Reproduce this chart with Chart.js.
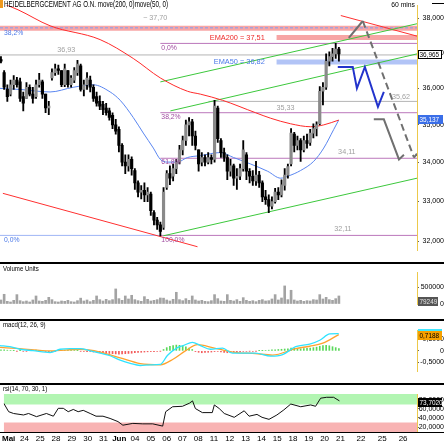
<!DOCTYPE html>
<html>
<head>
<meta charset="utf-8">
<script src="https://cdn.jsdelivr.net/npm/chart.js@4.4.0/dist/chart.umd.min.js"></script>
<style>
  html, body { margin: 0; padding: 0; background: #fff; }
  #wrap { position: relative; width: 444px; height: 444px; overflow: hidden; background: #fff; }
  .pane { position: absolute; left: 0; width: 444px; }
  .sep { position: absolute; left: 0; width: 444px; height: 2px; background: #000; }
</style>
</head>
<body>
<div id="wrap">
  <div class="pane" style="top:0;height:262px"><canvas id="main"></canvas></div>
  <div class="sep" style="top:262px"></div>
  <div class="pane" style="top:264px;height:56px"><canvas id="vol"></canvas></div>
  <div class="sep" style="top:319px"></div>
  <div class="pane" style="top:321px;height:63px"><canvas id="macd"></canvas></div>
  <div class="sep" style="top:383px"></div>
  <div class="pane" style="top:385px;height:59px"><canvas id="rsi"></canvas></div>
  <div class="sep" style="top:432px;height:1px"></div>
  <div style="position:absolute;left:0;top:0;width:3px;height:8px;background:#f09a20"></div>
</div>
<script>
const FONT = '"Liberation Sans", Arial, sans-serif';

// time axis: one unit = one trading day, day 0 = 23 Mai
const X_MIN = -0.31, X_MAX = 25.85;
const FIRST_BAR = -0.25, BAR_STEP = 0.2;
const dayTicks = [0, 1, 2, 3, 4, 5, 6, 7, 8, 9, 10, 11, 12, 13, 14, 15, 16, 17, 18, 19, 20, 21, 22.3, 23.65, 24.97];
const dayLabels = ['Mai', '24', '25', '28', '29', '30', '31', 'Jun', '04', '05', '06', '07', '08', '11', '12', '13', '14', '15', '18', '19', '20', '21', '22', '25', '26'];

// price bars
const opens = [36.81, 36.44, 35.97, 35.84, 36.10, 36.23, 36.18, 35.77, 35.72, 36.03,
  35.84, 35.77, 36.10, 36.18, 35.84, 35.46, 36.29, 36.44, 36.55, 36.50,
  36.10, 36.50, 36.10, 36.23, 36.44, 36.63, 35.97, 36.10, 36.23, 36.03,
  35.77, 35.64, 35.56, 35.46, 35.38, 35.26, 35.00, 34.88, 34.45, 34.01,
  33.91, 34.08, 33.79, 33.47, 33.23, 33.28, 33.16, 33.18, 32.71, 32.52,
  32.40, 32.34, 33.35, 33.71, 33.64, 33.84, 34.01, 34.33, 34.58, 35.00,
  35.08, 34.70, 34.33, 34.01, 34.13, 34.01, 34.13, 34.08, 35.46, 34.58,
  34.26, 34.13, 33.77, 33.91, 33.59, 33.64, 33.84, 34.20, 33.77, 33.64,
  33.52, 33.67, 33.47, 33.11, 33.04, 32.87, 32.99, 33.23, 33.16, 33.40,
  33.67, 33.96, 34.75, 34.45, 34.58, 34.33, 34.58, 34.53, 34.78, 34.90,
  35.03, 35.92, 36.03, 36.76, 36.89, 36.97, 37.11];
const highs = [36.89, 36.50, 36.10, 36.23, 36.36, 36.31, 36.29, 35.90, 36.16, 36.10,
  36.03, 36.23, 36.42, 36.23, 35.84, 35.64, 36.55, 36.68, 36.65, 36.50,
  36.68, 36.50, 36.36, 36.58, 36.79, 36.68, 36.23, 36.44, 36.34, 36.10,
  35.90, 35.79, 35.64, 35.59, 35.46, 35.33, 35.15, 34.95, 34.50, 34.20,
  34.20, 34.15, 33.84, 33.52, 33.40, 33.47, 33.35, 33.23, 32.76, 32.59,
  32.47, 33.35, 33.79, 33.91, 33.96, 34.08, 34.45, 34.70, 35.13, 35.20,
  35.15, 34.83, 34.33, 34.26, 34.20, 34.26, 34.20, 35.67, 35.51, 34.63,
  34.38, 34.20, 34.08, 33.96, 33.84, 33.96, 34.58, 34.26, 33.84, 33.79,
  34.03, 33.77, 33.52, 33.28, 33.16, 33.11, 33.33, 33.35, 33.55, 33.84,
  33.96, 34.90, 34.80, 34.70, 34.63, 34.70, 34.75, 34.88, 35.03, 35.08,
  36.05, 36.16, 36.97, 37.03, 37.13, 37.27, 37.16];
const lows = [36.71, 35.97, 35.64, 35.79, 35.97, 36.03, 35.64, 35.38, 35.72, 35.79,
  35.59, 35.72, 36.03, 35.72, 35.33, 35.28, 36.23, 36.36, 36.39, 36.05,
  36.05, 36.03, 36.03, 36.16, 36.36, 35.92, 35.79, 35.97, 35.90, 35.64,
  35.51, 35.41, 35.28, 35.26, 35.13, 34.90, 34.75, 34.28, 33.91, 33.71,
  33.77, 33.67, 33.30, 33.11, 33.06, 32.99, 32.99, 32.64, 32.40, 32.29,
  32.13, 32.29, 33.30, 33.42, 33.52, 33.71, 33.96, 34.20, 34.45, 34.70,
  34.45, 34.33, 33.77, 33.91, 33.91, 33.96, 33.96, 34.01, 34.53, 34.13,
  34.03, 33.55, 33.64, 33.40, 33.30, 33.55, 33.77, 33.55, 33.47, 33.40,
  33.40, 33.35, 32.99, 32.92, 32.71, 32.80, 32.95, 33.04, 33.11, 33.28,
  33.59, 33.91, 34.28, 34.33, 34.03, 34.28, 34.38, 34.45, 34.65, 34.70,
  35.00, 35.54, 35.97, 36.63, 36.76, 36.84, 36.76];
const closes = [36.76, 36.03, 35.77, 36.10, 36.23, 36.10, 35.72, 35.59, 36.03, 35.84,
  35.72, 36.10, 36.23, 35.84, 35.46, 35.51, 36.44, 36.55, 36.50, 36.10,
  36.55, 36.10, 36.29, 36.50, 36.68, 35.97, 36.10, 36.29, 36.03, 35.72,
  35.59, 35.51, 35.41, 35.33, 35.20, 35.00, 34.83, 34.45, 34.01, 33.91,
  34.08, 33.84, 33.47, 33.23, 33.28, 33.16, 33.23, 32.76, 32.52, 32.40,
  32.24, 33.23, 33.71, 33.59, 33.84, 34.01, 34.33, 34.58, 35.00, 35.08,
  34.70, 34.45, 33.96, 34.13, 34.01, 34.13, 34.08, 35.51, 34.63, 34.26,
  34.13, 33.77, 33.91, 33.59, 33.64, 33.84, 34.33, 33.77, 33.64, 33.52,
  33.67, 33.47, 33.11, 33.04, 32.87, 32.99, 33.23, 33.16, 33.42, 33.67,
  33.89, 34.78, 34.45, 34.58, 34.33, 34.58, 34.50, 34.78, 34.90, 35.00,
  35.92, 36.03, 36.76, 36.89, 36.97, 37.11, 36.97];
const volumes = [120, 290, 80, 60, 110, 280, 100, 70, 90, 60,
  120, 240, 90, 80, 110, 200, 130, 70, 60, 90,
  80, 110, 70, 60, 100, 175, 90, 120, 70, 110,
  240, 130, 90, 140, 100, 130, 450, 160, 110, 240,
  150, 260, 130, 100, 80, 220, 140, 90, 110, 130,
  180, 175, 120, 90, 140, 350, 130, 100, 160, 110,
  240, 120, 90, 110, 80, 70, 100, 280, 160, 90,
  80, 280, 110, 90, 130, 80, 190, 110, 80, 100,
  70, 110, 130, 90, 100, 150, 280, 120, 180, 540,
  130, 410, 120, 90, 110, 80, 100, 90, 130, 120,
  280, 150, 200, 130, 110, 160, 240].map(v => v * 1000);

// moving averages [day, price]
const ema200Line = [[-0.31, 38.47], [0.82, 38.25], [2.83, 37.78], [5.97, 37.38], [8.05, 36.84], [9.75, 36.29],
  [11.45, 35.92], [12.26, 35.84], [13.65, 35.67], [15.72, 35.33], [16.67, 35.18], [17.92, 35.03],
  [19.18, 34.95], [20.0, 35.00], [20.94, 35.13]];
const ema50Line = [[-0.31, 36.00], [0.94, 35.97], [2.83, 35.90], [4.28, 36.03], [5.53, 36.10], [6.60, 35.90],
  [7.23, 35.67], [8.05, 35.20], [8.68, 34.78], [9.31, 34.38], [9.75, 34.08], [10.19, 34.01], [10.82, 34.01],
  [11.45, 34.13], [12.26, 34.18], [13.52, 34.26], [14.34, 34.13], [15.41, 33.96], [16.48, 33.77],
  [17.30, 33.59], [17.74, 33.64], [18.55, 33.79], [19.37, 34.03], [20.0, 34.38], [20.63, 34.88], [20.94, 35.13]];

// drawn levels
const pinkLevel = 37.71;
const fibLeftLevels = [37.72, 32.14];
const fibLeftNames = ['38,2%', '0,0%'];
const fibRightLevels = [37.27, 35.33, 34.11, 32.14];
const fibRightNames = ['0,0%', '38,2%', '61,8%', '100,0%'];
const fibRightPrices = ['', '35,33', '34,11', '32,11'];
const grayLevels = [36.94, 35.64];
const grayNames = ['36,93', '35,62'];
const emaBandLevels = [37.44, 36.74];
const emaBandNames = ['EMA200 = 37,51', 'EMA50 = 36,82'];
const FIB_START = 9.75, BAND_START = 17.04;
const grayStarts = [-0.31, 12.77];

// trend lines [day, price]
const channelTop = [[9.75, 36.18], [25.85, 37.84]];
const channelMid = [[10.38, 35.38], [25.85, 36.97]];
const channelLow = [[9.94, 32.13], [25.85, 33.59]];
const trendDownLeft = [[-0.13, 33.20], [12.08, 31.86]];
const trendDownRight = [[21.07, 38.08], [25.85, 37.48]];

// projections
const projGrayUp = [[21.57, 37.43], [22.45, 37.92]];
const projGrayDash = [[22.45, 37.92], [25.66, 34.13]];
const projGrayTail = [[25.66, 34.13], [25.85, 34.23]];
const projGrayStep = [[23.14, 35.15], [23.77, 35.15], [24.72, 34.08], [25.03, 34.20]];
const projBlue = [[20.88, 36.60], [21.82, 36.60], [22.08, 36.00], [22.58, 36.60], [23.40, 35.49], [23.77, 35.90]];

// indicators
const macdHist = [0.05, 0.04, 0.03, 0.02, 0.01,
  -0.01, 0.01, -0.02, -0.01, 0.01, 0.02, 0.03, 0.02, 0.01,
  -0.03, -0.04, -0.03, -0.02, 0.01,
  0.02, 0.03, 0.03, 0.02, 0.02, 0.01, -0.01,
  -0.02, -0.03, -0.03, -0.05, -0.06, -0.07, -0.09, -0.10, -0.11, -0.12, -0.13, -0.14, -0.13, -0.12, -0.11, -0.10, -0.08, -0.07, -0.06, -0.05, -0.04, -0.03,
  -0.03, -0.02, -0.01,
  0.06, 0.14, 0.20, 0.23, 0.25, 0.24, 0.22, 0.18, 0.12, 0.06,
  -0.03, -0.06, -0.08, -0.07, -0.06, -0.05, -0.03, -0.02,
  -0.05, -0.07, -0.08, -0.06, -0.05, -0.04, -0.03, -0.02, -0.02, -0.01, -0.02, -0.01, 0.01, 0.01,
  0.02, 0.03, 0.04, 0.05, 0.06, 0.07, 0.08, 0.09,
  0.12, 0.11, 0.10, 0.09, 0.10, 0.11, 0.12, 0.14, 0.16,
  0.20, 0.23, 0.24, 0.22, 0.18, 0.14, 0.10];
const macdLine = [[-0.31, 0.23], [0.31, 0.18], [0.94, 0.07], [1.76, 0.01], [2.83, -0.07], [3.46, 0.07], [4.09, 0.10],
  [4.72, 0.10], [5.35, 0.0], [5.97, -0.10], [6.6, -0.21], [7.23, -0.40], [7.86, -0.54], [8.49, -0.63], [9.12, -0.60],
  [9.75, -0.58], [10.19, -0.20], [10.82, 0.14], [11.19, 0.23], [11.76, 0.37], [12.26, 0.23], [12.89, 0.07],
  [13.65, 0.12], [14.28, -0.10], [14.91, -0.10], [15.72, -0.10], [16.67, -0.23], [17.42, -0.16], [18.24, 0.18],
  [19.12, 0.29], [19.75, 0.46], [20.38, 0.73], [20.94, 0.74]];
const signalLine = [[-0.31, 0.15], [0.94, 0.10], [2.83, 0.0], [4.72, 0.07], [5.97, -0.05], [7.23, -0.30], [8.49, -0.55],
  [9.75, -0.60], [10.57, -0.35], [11.32, 0.0], [12.08, 0.27], [13.08, 0.13], [14.28, -0.05], [15.72, -0.12],
  [16.79, -0.18], [18.24, 0.10], [19.12, 0.20], [19.94, 0.33], [20.94, 0.70]];
const rsiLine = [[-0.31, 72.6], [0, 54], [0.31, 50], [0.94, 46.7], [1.26, 50], [1.76, 43], [2.39, 50], [2.83, 44],
  [3.14, 61.5], [3.46, 61.5], [3.77, 54], [4.09, 59], [4.40, 54], [4.72, 57], [5.16, 50], [5.53, 44], [5.97, 44],
  [6.42, 39], [6.92, 32], [7.23, 24], [7.86, 28], [8.49, 27], [9.12, 27], [9.75, 22], [9.94, 54], [10.38, 65],
  [11.0, 66], [11.45, 73], [11.64, 78], [11.82, 61], [12.26, 52], [12.89, 52], [13.02, 69], [13.33, 61], [13.65, 50],
  [14.28, 41.5], [14.91, 56], [15.22, 44], [15.72, 48], [16.04, 41.5], [16.48, 37], [16.98, 46.7], [17.42, 58],
  [17.86, 71], [18.49, 65], [19.12, 69], [19.43, 66], [19.75, 84], [20.13, 86], [20.57, 86], [20.94, 78]];

const priceTicks = [32, 33, 34, 35, 36, 37, 38];
const volTicks = [0, 500000];
const macdTicks = [-0.5, 0, 0.5];
const rsiTicks = [20, 40, 60, 80];
const lastPrice = 36.965, ema50Last = 35.137, volLast = 79249, macdLast = 0.7188, signalLast = 0.74, rsiLast = 73.702;

const barDay = i => FIRST_BAR + i * BAR_STEP;
const comma = (v, d) => v.toFixed(d).replace('.', ',');

function drawText(ctx, text, x, y, o) {
  o = o || {};
  ctx.save();
  ctx.font = (o.bold ? 'bold ' : '') + (o.size || 8) + 'px ' + FONT;
  ctx.fillStyle = o.color || '#000';
  ctx.textBaseline = 'middle';
  ctx.textAlign = 'left';
  const raw = ctx.measureText(text).width;
  const sx = o.width ? o.width / raw : (o.sx || 0.78);
  const w = raw * sx;
  let left = x;
  if (o.align === 'center') left = x - w / 2;
  else if (o.align === 'right') left = x - w;
  ctx.translate(left, y);
  ctx.scale(sx, 1);
  ctx.fillText(text, 0, 0);
  ctx.restore();
}

function axisBox(chart, value, text, bg, fg, w, stroke, dy) {
  const ctx = chart.ctx;
  const y = chart.scales.y.getPixelForValue(value) + (dy || 0);
  const x = chart.chartArea.right + 1;
  const top = Math.round(y - 4.5);
  ctx.save();
  ctx.fillStyle = bg;
  ctx.fillRect(x, top, w, 9);
  if (stroke) {
    ctx.strokeStyle = stroke;
    ctx.lineWidth = 1;
    ctx.strokeRect(x + 0.5, top + 0.5, w - 1, 8);
  }
  ctx.restore();
  drawText(ctx, text, x + 1.5, top + 4.7, { size: 8, color: fg, sx: 0.8 });
}

function lineDs(pts, color, width, dash, order, smooth) {
  return {
    type: 'line',
    data: pts.map(p => ({ x: p[0], y: p[1] })),
    borderColor: color, borderWidth: width, borderDash: dash || [],
    borderCapStyle: 'butt', pointRadius: 0, fill: false, order: order,
    tension: 0, cubicInterpolationMode: smooth ? 'monotone' : 'default'
  };
}

function xOpts(show) {
  return {
    type: 'linear', min: X_MIN, max: X_MAX, offset: false, display: show,
    grid: { display: false, drawTicks: false }, border: { display: false },
    afterBuildTicks: s => { s.ticks = dayTicks.map(v => ({ value: v })); },
    afterFit: s => { s.height = 12; },
    ticks: {
      autoSkip: false, maxRotation: 0, padding: 2, color: '#000',
      font: c => ({ family: FONT, size: 8, weight: (c.index === 0 || c.index === 7) ? 'bold' : 'normal' }),
      callback: (v, i) => dayLabels[i]
    }
  };
}

function yOpts(type, min, max, tickVals, fmt) {
  return {
    type: type, position: 'right', min: min, max: max, bounds: 'data',
    afterBuildTicks: s => { s.ticks = tickVals.map(v => ({ value: v })); },
    afterFit: s => { s.width = 27; },
    grid: { drawOnChartArea: false, drawTicks: true, tickLength: 2, color: '#666' },
    border: { display: true, color: '#ecc94b', width: 1 },
    ticks: { autoSkip: false, crossAlign: 'far', padding: 1, color: '#000', font: { family: FONT, size: 7 }, callback: v => fmt(v) }
  };
}

function baseOptions(scales, padding) {
  return {
    responsive: true, maintainAspectRatio: false, animation: false, events: [], devicePixelRatio: 1,
    layout: { padding: padding },
    plugins: { legend: { display: false }, tooltip: { enabled: false } },
    scales: scales
  };
}

// ---------- main price panel ----------
const GRAY = '#a0a0a0', PURPLE = 'rgba(175,95,175,0.85)', PURPLE_TXT = '#a04ca0';
const BLUE_TXT = '#4a78e8', RED_TXT = '#ee2a2a';
const mainSets = [
  lineDs([[X_MIN, pinkLevel], [X_MAX, pinkLevel]], 'rgba(242,110,110,0.62)', 5, null, 30),
  lineDs([[BAND_START, emaBandLevels[0]], [X_MAX, emaBandLevels[0]]], 'rgba(242,110,110,0.62)', 5, null, 30),
  lineDs([[BAND_START, emaBandLevels[1]], [X_MAX, emaBandLevels[1]]], 'rgba(130,160,240,0.62)', 5, null, 30),
  lineDs([[X_MIN, fibLeftLevels[0]], [X_MAX, fibLeftLevels[0]]], '#7f9ef0', 1, [3, 2], 20),
  lineDs([[X_MIN, fibLeftLevels[1]], [FIB_START, fibLeftLevels[1]]], '#9fb6f5', 1, null, 20)
];
fibRightLevels.forEach(v => mainSets.push(lineDs([[FIB_START, v], [X_MAX, v]], PURPLE, 1, null, 20)));
grayLevels.forEach((v, i) => mainSets.push(lineDs([[grayStarts[i], v], [X_MAX, v]], '#b4b4b4', 1, null, 20)));
[channelTop, channelMid, channelLow].forEach(l => mainSets.push(lineDs(l, '#3cc83c', 1, null, 15)));
[trendDownLeft, trendDownRight].forEach(l => mainSets.push(lineDs(l, '#ff3030', 1, null, 15)));
mainSets.push(lineDs(ema200Line, '#ff2a2a', 1, null, 10, true));
mainSets.push(lineDs(ema50Line, '#5a86f0', 1, null, 10, true));
mainSets.push(lineDs(projGrayUp, '#707070', 2, null, 5));
mainSets.push(lineDs(projGrayDash, '#707070', 2, [7, 4], 5));
mainSets.push(lineDs(projGrayTail, '#707070', 2, null, 5));
mainSets.push(lineDs(projGrayStep, '#707070', 2, null, 5));
mainSets.push(lineDs(projBlue, '#2233cc', 2, null, 5));
mainSets.push({
  type: 'bar', grouped: false, order: 2, barThickness: 1.2, minBarLength: 1,
  data: lows.map((l, i) => ({ x: barDay(i), y: [l, highs[i]] })),
  backgroundColor: '#000'
});
mainSets.push({
  type: 'bar', grouped: false, order: 1, barThickness: 2.5, minBarLength: 1,
  data: opens.map((o, i) => ({ x: barDay(i), y: [o, closes[i]] })),
  backgroundColor: opens.map((o, i) => closes[i] >= o ? '#8a8a8a' : '#000')
});

const mainOverlay = {
  id: 'mainOverlay',
  afterDraw(chart) {
    const ctx = chart.ctx, xs = chart.scales.x, ys = chart.scales.y;
    const X = d => xs.getPixelForValue(d), Y = p => ys.getPixelForValue(p);
    drawText(ctx, 'HEIDELBERGCEMENT AG O.N. move(200, 0)move(50, 0)', 4, 4.5, { size: 8.5, width: 164 });
    drawText(ctx, '60 mins', 415, 4.5, { align: 'right', sx: 0.85 });
    ctx.save();
    ctx.strokeStyle = '#000'; ctx.lineWidth = 1;
    ctx.beginPath(); ctx.moveTo(432, 3.5); ctx.lineTo(444, 3.5); ctx.stroke();
    ctx.restore();

    drawText(ctx, '~ 37,70', X(9.43), Y(pinkLevel) - 10, { color: GRAY, align: 'center', sx: 0.9 });
    drawText(ctx, fibLeftNames[0], X(-0.06), Y(fibLeftLevels[0]) + 4.5, { color: BLUE_TXT, sx: 0.85 });
    drawText(ctx, fibLeftNames[1], X(-0.06), Y(fibLeftLevels[1]) + 4, { color: BLUE_TXT, sx: 0.85 });
    drawText(ctx, emaBandNames[0], X(16.3), Y(emaBandLevels[0]), { color: RED_TXT, align: 'right', sx: 0.92 });
    drawText(ctx, emaBandNames[1], X(16.3), Y(emaBandLevels[1]), { color: BLUE_TXT, align: 'right', sx: 0.92 });
    drawText(ctx, grayNames[0], X(3.84), Y(grayLevels[0]) - 5.5, { color: GRAY, align: 'center', sx: 0.9 });
    drawText(ctx, grayNames[1], X(24.84), Y(grayLevels[1]) - 4.5, { color: GRAY, align: 'center', sx: 0.9 });
    fibRightLevels.forEach((v, i) => {
      drawText(ctx, fibRightNames[i], X(FIB_START) + 1, Y(v) + 4, { color: PURPLE_TXT, sx: 0.85 });
    });
    drawText(ctx, fibRightPrices[1], X(17.6), Y(fibRightLevels[1]) - 5, { color: GRAY, align: 'center', sx: 0.9 });
    drawText(ctx, fibRightPrices[2], X(21.45), Y(fibRightLevels[2]) - 6, { color: GRAY, align: 'center', sx: 0.9 });
    drawText(ctx, fibRightPrices[3], X(21.2), Y(fibRightLevels[3]) - 7, { color: GRAY, align: 'center', sx: 0.9 });

    axisBox(chart, lastPrice, comma(lastPrice, 3), '#fff', '#000', 24, '#000');
    axisBox(chart, ema50Last, comma(ema50Last, 3), '#3a6ee8', '#fff', 25);
  }
};

new Chart(document.getElementById('main'), {
  type: 'bar',
  data: { datasets: mainSets },
  options: baseOptions({
    x: xOpts(false),
    y: yOpts('logarithmic', 31.78, 38.385, priceTicks, v => comma(v, 3))
  }, { top: 0, bottom: 0, left: 0, right: 0 }),
  plugins: [mainOverlay]
});

// ---------- volume ----------
new Chart(document.getElementById('vol'), {
  type: 'bar',
  data: {
    datasets: [{
      grouped: false, barThickness: 2,
      data: volumes.map((v, i) => ({ x: barDay(i), y: v })),
      backgroundColor: '#a3a3a3'
    }]
  },
  options: baseOptions({
    x: xOpts(false),
    y: yOpts('linear', 0, 956000, volTicks, v => String(v))
  }, { top: 8, bottom: 4, left: 0, right: 0 }),
  plugins: [{
    id: 'volOverlay',
    afterDraw(chart) {
      drawText(chart.ctx, 'Volume Units', 3, 4.5, { sx: 0.76 });
      axisBox(chart, volLast, String(volLast), '#555', '#e6e6e6', 20);
    }
  }]
});

// ---------- macd ----------
new Chart(document.getElementById('macd'), {
  type: 'bar',
  data: {
    datasets: [
      lineDs(macdLine, '#2fe3ff', 1.3, null, 1, true),
      lineDs(signalLine, '#ffa22e', 1.3, null, 2, true),
      {
        type: 'bar', grouped: false, order: 5, barThickness: 1,
        data: macdHist.map((v, i) => ({ x: barDay(i), y: v })),
        backgroundColor: macdHist.map(v => v >= 0 ? '#5ad85a' : '#f25a5a')
      }
    ]
  },
  options: baseOptions({
    x: xOpts(false),
    y: yOpts('linear', -0.867, 0.9, macdTicks, v => v === 0 ? '0' : comma(v, 4))
  }, { top: 9, bottom: 1, left: 0, right: 0 }),
  plugins: [{
    id: 'macdOverlay',
    afterDraw(chart) {
      drawText(chart.ctx, 'macd(12, 26, 9)', 3, 4, { sx: 0.76 });
      axisBox(chart, signalLast, '', '#40e6ff', '#000', 24);
      axisBox(chart, macdLast, comma(macdLast, 4), '#f5a000', '#000', 24, null, 1.5);
    }
  }]
});

// ---------- rsi ----------
const rsiBands = [[70, 100, '#b2f5b2'], [0, 30, '#f8b3b3']];
new Chart(document.getElementById('rsi'), {
  type: 'line',
  data: { datasets: [lineDs(rsiLine, '#111', 1, null, 1)] },
  options: baseOptions({
    x: xOpts(true),
    y: yOpts('linear', 8.9, 93.3, rsiTicks, v => comma(v, 4))
  }, { top: 9, bottom: 0, left: 0, right: 0 }),
  plugins: [{
    id: 'rsiOverlay',
    beforeDatasetsDraw(chart) {
      const ctx = chart.ctx, a = chart.chartArea, ys = chart.scales.y;
      ctx.save();
      ctx.beginPath(); ctx.rect(a.left, a.top, a.right - a.left, a.bottom - a.top); ctx.clip();
      rsiBands.forEach(b => {
        const y1 = ys.getPixelForValue(b[1]), y0 = ys.getPixelForValue(b[0]);
        ctx.fillStyle = b[2];
        ctx.fillRect(a.left, y1, a.right - a.left, y0 - y1);
      });
      ctx.restore();
    },
    afterDraw(chart) {
      drawText(chart.ctx, 'rsi(14, 70, 30, 1)', 3, 4, { sx: 0.76 });
      axisBox(chart, rsiLast, comma(rsiLast, 4), '#000', '#fff', 24);
    }
  }]
});
</script>
</body>
</html>
